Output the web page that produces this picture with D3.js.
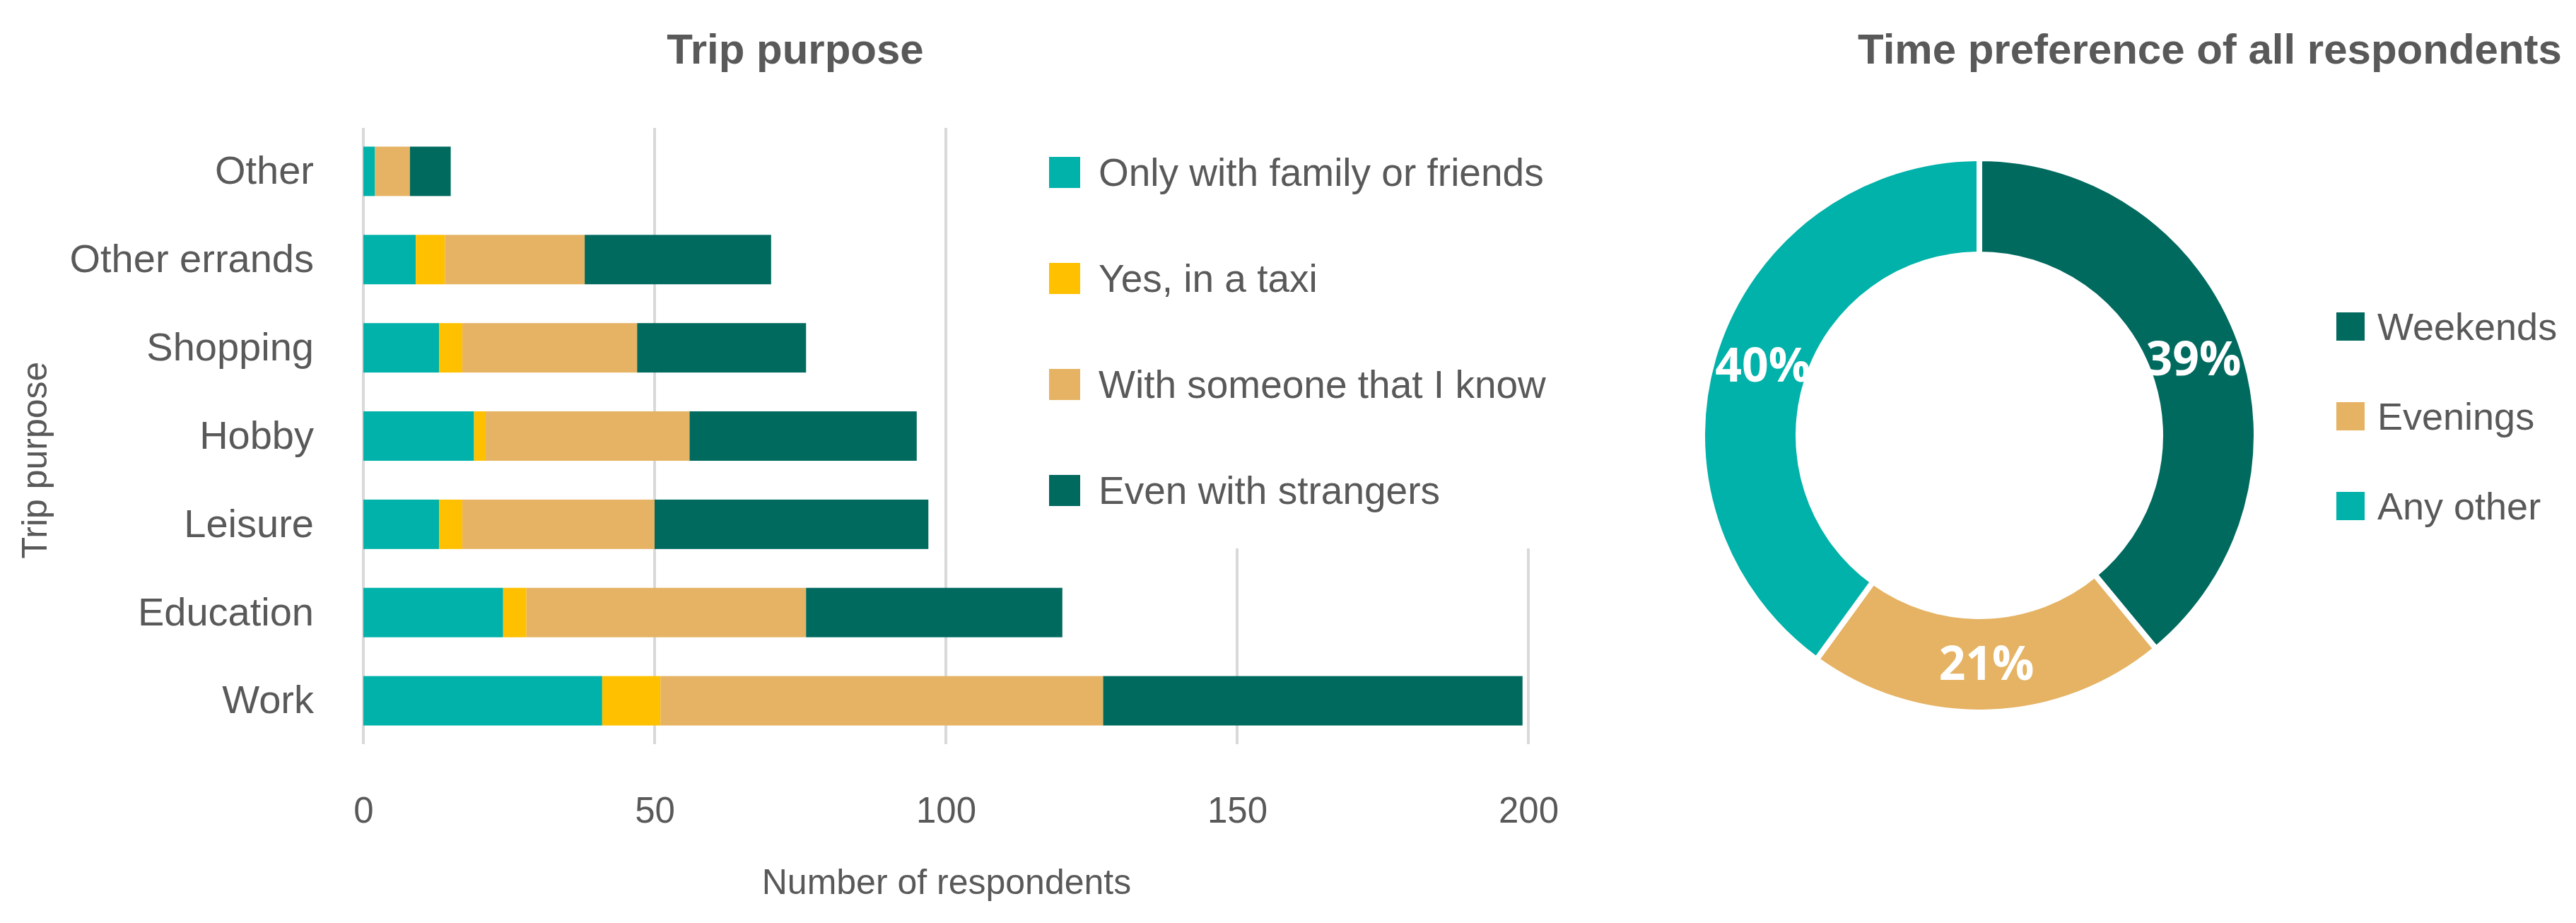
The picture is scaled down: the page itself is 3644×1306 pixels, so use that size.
<!DOCTYPE html>
<html><head><meta charset="utf-8">
<script src="https://cdn.jsdelivr.net/npm/d3@7"></script>
<style>body{margin:0;background:#fff}</style>
</head><body>
<svg id="c" width="3644" height="1306" font-family="Liberation Sans, Arial, sans-serif"></svg>
<script>
const categories = ["Other","Other errands","Shopping","Hobby","Leisure","Education","Work"];
const seriesNames = ["Only with family or friends","Yes, in a taxi","With someone that I know","Even with strangers"];
const familyVals = [2,9,13,19,13,24,41];
const taxiVals = [0,5,4,2,4,4,10];
const knowVals = [6,24,30,35,33,48,76];
const strangerVals = [7,32,29,39,47,44,72];
const xTicks = [0,50,100,150,200];
const pieLabels = ["Weekends","Evenings","Any other"];
const pieVals = [39,21,40];

const colors = ["#00B2A9","#FFC000","#E5B363","#006A5F"];
const pieColors = ["#006A5F","#E5B363","#00B2A9"];
const grey = "#595959";
const svg = d3.select("#c");

const x = d3.scaleLinear().domain([0,200]).range([514,2162]);
const y = d3.scaleBand().domain(categories).range([180,1054]).paddingInner(0.44).paddingOuter(0.22);
const g = svg.append("g");
g.selectAll("line.grid").data(xTicks).join("line")
  .attr("x1",d=>x(d)).attr("x2",d=>x(d)).attr("y1",181).attr("y2",1053)
  .attr("stroke","#d9d9d9").attr("stroke-width",4);
const rows = categories.map((c,i)=>({c,vals:[familyVals[i],taxiVals[i],knowVals[i],strangerVals[i]]}));
rows.forEach(r=>{
  let acc=0;
  r.vals.forEach((v,k)=>{
    g.append("rect").attr("x",x(acc)).attr("width",x(acc+v)-x(acc))
     .attr("y",y(r.c)).attr("height",y.bandwidth()).attr("fill",colors[k]);
    acc+=v;
  });
});
const xAxis = g.append("g").attr("transform","translate(0,1125)").call(d3.axisBottom(x).tickValues(xTicks).tickSize(0));
xAxis.select(".domain").remove();
xAxis.selectAll("text").attr("font-size",51).attr("fill",grey).attr("font-family","Liberation Sans, Arial");
const yAxis = g.append("g").attr("transform","translate(447,0)").call(d3.axisLeft(y).tickSize(0));
yAxis.select(".domain").remove();
yAxis.selectAll("text").attr("font-size",56).attr("fill",grey).attr("font-family","Liberation Sans, Arial");
g.append("text").attr("x",1125).attr("y",90).attr("text-anchor","middle").attr("font-size",60).attr("font-weight","bold").attr("fill",grey).text("Trip purpose");
g.append("text").attr("x",1339).attr("y",1265).attr("text-anchor","middle").attr("font-size",50).attr("fill",grey).text("Number of respondents");
g.append("text").attr("transform","translate(66,651) rotate(-90)").attr("text-anchor","middle").attr("font-size",50).attr("fill",grey).text("Trip purpose");
g.append("rect").attr("x",1470).attr("y",178).attr("width",760).attr("height",598).attr("fill","#fff");
const lg = g.selectAll("g.lg").data(seriesNames).join("g").attr("transform",(d,i)=>`translate(1484,${244+i*150})`);
lg.append("rect").attr("x",0).attr("y",-22).attr("width",44).attr("height",44).attr("fill",(d,i)=>colors[i]);
lg.append("text").attr("x",70).attr("y",19).attr("font-size",55).attr("fill",grey).text(d=>d);

const pg = svg.append("g").attr("transform","translate(2800,616)");
const pie = d3.pie().sort(null).value(d=>d);
const arcs = pie(pieVals);
const arc = d3.arc().innerRadius(256).outerRadius(392);
pg.selectAll("path").data(arcs).join("path").attr("d",arc).attr("fill",(d,i)=>pieColors[i]).attr("stroke","#fff").attr("stroke-width",8);
const lab = d3.arc().innerRadius(322).outerRadius(322);
pg.selectAll("text.pl").data(arcs).join("text").attr("transform",d=>`translate(${lab.centroid(d)})`)
  .attr("text-anchor","middle").attr("dy","0.36em").attr("font-size",66).attr("font-weight","bold")
  .attr("font-family","Open Sans, sans-serif").attr("fill","#fff").text(d=>d.data+"%");
svg.append("text").attr("x",3126).attr("y",90).attr("text-anchor","middle").attr("font-size",60).attr("font-weight","bold").attr("fill",grey).text("Time preference of all respondents");
const plg = svg.selectAll("g.plg").data(pieLabels).join("g").attr("transform",(d,i)=>`translate(3305,${462+i*127})`);
plg.append("rect").attr("y",-20).attr("width",40).attr("height",40).attr("fill",(d,i)=>pieColors[i]);
plg.append("text").attr("x",58).attr("y",19).attr("font-size",54).attr("fill",grey).text(d=>d);
</script>
</body></html>
